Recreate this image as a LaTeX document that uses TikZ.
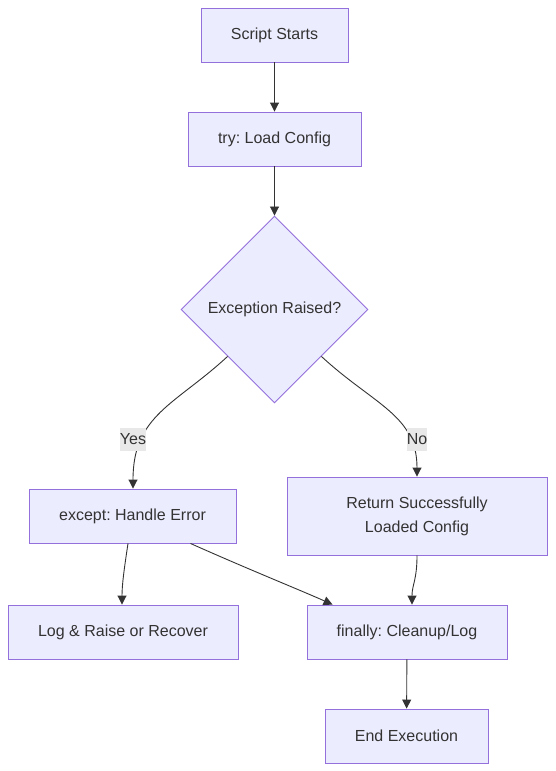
\documentclass[tikz,border=0pt]{standalone}
\usepackage{fontspec}
\setmainfont{Liberation Sans}
\usetikzlibrary{shapes.geometric,arrows.meta}
\frenchspacing
\definecolor{nfill}{HTML}{ECECFF}
\definecolor{nline}{HTML}{9370DB}
\definecolor{ntext}{HTML}{333333}
\definecolor{lblbg}{HTML}{E8E8E8}
\tikzset{
  box/.style={draw=nline, fill=nfill, line width=0.9pt, text=ntext, inner sep=0pt, align=center, font=\fontsize{16}{24}\selectfont\frenchspacing},
  dia/.style={draw=nline, fill=nfill, line width=0.9pt, text=ntext, shape=diamond, aspect=1, inner sep=0pt, minimum width=187pt, minimum height=187pt, font=\fontsize{16}{24}\selectfont},
  edge/.style={draw=ntext, line width=0.9pt, -{Triangle[length=9pt,width=9pt]}},
  lbl/.style={fill=lblbg, text=ntext, inner xsep=0pt, inner ysep=0pt, minimum height=23pt, font=\fontsize{16}{19}\selectfont}
}
\begin{document}
\begin{tikzpicture}[x=1pt,y=1pt]
\useasboundingbox (0,0) rectangle (555,-771);
\node[box, minimum width=147pt, minimum height=54pt] (s) at (274.5,-35) {Script Starts};
\node[box, minimum width=173pt, minimum height=54pt] (t) at (274.5,-139) {try: Load Config};
\node[dia] (d) at (274.5,-309.5) {Exception Raised?};
\node[box, minimum width=207pt, minimum height=54pt] (e) at (132.5,-516) {except: Handle Error};
\node[box, minimum width=260pt, minimum height=78pt] (r) at (417,-516) {Return Successfully\\Loaded Config};
\node[box, minimum width=230pt, minimum height=54pt] (l) at (123,-632) {Log \& Raise or Recover};
\node[box, minimum width=200pt, minimum height=54pt] (f) at (407,-632) {finally: Cleanup/Log};
\node[box, minimum width=163pt, minimum height=54pt] (x) at (406.5,-736) {End Execution};

\draw[edge] (s) -- (t);
\draw[edge] (t) -- (d);
\draw[edge] (d.south west) .. controls (175,-405) and (133,-415) .. ([xshift=0.5pt]e.north);
\draw[edge] (d.south east) .. controls (374,-405) and (417,-415) .. (r.north);
\node[lbl] (yes) at (133,-439.5) {Yes};
\node[lbl] (no) at (417,-439.5) {No};
\draw[edge] ([xshift=-4.5pt]e.south) .. controls (124,-570) and (122,-585) .. ([xshift=-1pt]l.north);
\draw[edge] ([xshift=-46pt]e.south east) .. controls (250,-570) and (300,-590) .. ([xshift=26pt]f.north west);
\draw[edge] (r.south) .. controls (417,-580) and (412,-585) .. ([xshift=5pt]f.north);
\draw[edge] (f) -- (x);
\end{tikzpicture}
\end{document}
